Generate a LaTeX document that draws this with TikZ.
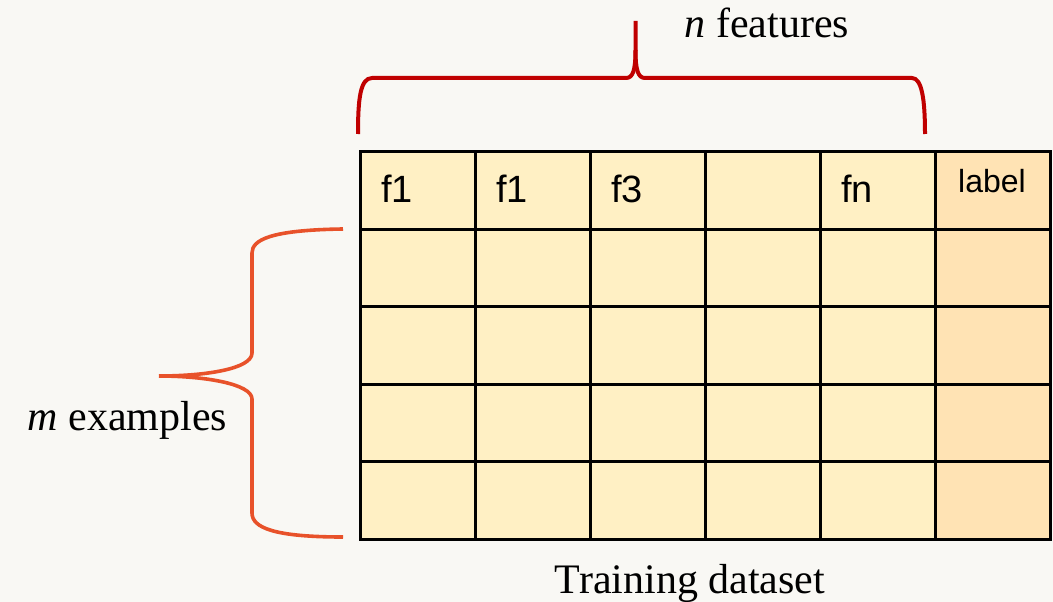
\documentclass[tikz,border=0pt]{standalone}
\usepackage{fontspec}
\setmainfont{Liberation Serif}
\newfontfamily\cellfont{Liberation Sans}
\definecolor{pagebg}{HTML}{F9F8F4}
\definecolor{cellfill}{HTML}{FFF0C4}
\definecolor{labelfill}{HTML}{FFE3B4}
\definecolor{topbrace}{HTML}{C00000}
\definecolor{sidebrace}{HTML}{E8522A}
\begin{document}
\begin{tikzpicture}[x=1pt,y=-1pt,
  cell/.style={draw=black, line width=3pt, fill=cellfill, rectangle,
    minimum width=115pt, minimum height=77.6pt, inner sep=0pt, outer sep=0pt,
    anchor=north west},
  labelcell/.style={cell, fill=labelfill},
  headtext/.style={font=\cellfont\fontsize{38}{40}\selectfont, inner sep=0pt, anchor=base west},
  captext/.style={font=\fontsize{42}{48}\selectfont, inner sep=0pt, anchor=base},
  bracetop/.style={draw=topbrace, line width=4pt, line join=round},
  braceside/.style={draw=sidebrace, line width=3.6pt, line join=round}]
  % page
  \fill[pagebg] (0,0) rectangle (1053,602);
  \useasboundingbox (0,0) rectangle (1053,602);

  % grid of cells: 5 feature columns and a label column, header + 4 rows
  \foreach \r in {0,...,4}{
    \foreach \c in {0,...,4}{
      \node[cell] (c-\r-\c) at ({360+115*\c},{151.5+77.6*\r}) {};
    }
    \node[labelcell] (c-\r-5) at ({360+115*5},{151.5+77.6*\r}) {};
  }

  % header texts
  \node[headtext] (h1) at (381,202) {f1};
  \node[headtext] (h2) at (496,202) {f1};
  \node[headtext] (h3) at (611,202) {f3};
  \node[headtext] (hn) at (841,202) {fn};
  \node[font=\cellfont\fontsize{32}{34}\selectfont, inner sep=0pt, anchor=base] (hl) at (992,192) {label};

  % brace over the feature columns
  \draw[bracetop] (358,134) .. controls (358,100) and (360,78) .. (372,78)
    -- (626,78) .. controls (633,78) and (635.5,70) .. (635.5,50) -- (635.5,21);
  \draw[bracetop] (635.5,50) .. controls (635.5,70) and (638,78) .. (645,78)
    -- (912,78) .. controls (922,78) and (925,100) .. (925,134);
  \node[captext] (feat) at (767,38) {\textit{n} features};

  % brace beside the example rows
  \draw[braceside] (343,229) .. controls (270,230) and (252,240) .. (252,253)
    -- (252,353) .. controls (252,369) and (205,376) .. (159,376);
  \draw[braceside] (159,376) .. controls (205,376) and (252,384) .. (252,399)
    -- (252,513) .. controls (252,528) and (275,537) .. (343,537);
  \node[captext] (ex) at (127.5,430) {\textit{m} examples};

  % caption under the table
  \node[captext] (cap) at (690,593) {Training dataset};
\end{tikzpicture}
\end{document}
